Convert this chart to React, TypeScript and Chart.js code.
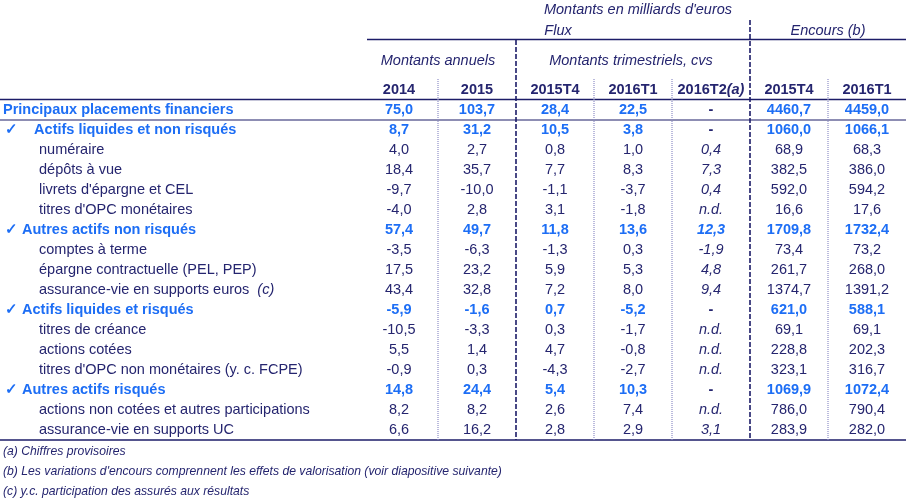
import { useEffect, useRef } from 'react';
import { Chart, registerables } from 'chart.js';

Chart.register(...registerables);

// ---------- data ----------
const columnKeys = ['f2014', 'f2015', 'f2015T4', 'f2016T1', 'f2016T2', 'e2015T4', 'e2016T1'];
const columnHeaders = ['2014', '2015', '2015T4', '2016T1', '2016T2', '2015T4', '2016T1'];
const columnHeaderNotes = ['', '', '', '', '(a)', '', ''];

const rowLabels = [
  'Principaux placements financiers',
  '✓    Actifs liquides et non risqués',
  'numéraire',
  'dépôts à vue',
  "livrets d'épargne et CEL",
  "titres d'OPC monétaires",
  '✓ Autres actifs non risqués',
  'comptes à terme',
  'épargne contractuelle (PEL, PEP)',
  'assurance-vie en supports euros',
  '✓ Actifs liquides et risqués',
  'titres de créance',
  'actions cotées',
  "titres d'OPC non monétaires (y. c. FCPE)",
  '✓ Autres actifs risqués',
  'actions non cotées et autres participations',
  'assurance-vie en supports UC',
];
const rowNotes = ['', '', '', '', '', '', '', '', '', '(c)', '', '', '', '', '', '', ''];
const rowKinds = ['total', 'group', 'item', 'item', 'item', 'item', 'group', 'item', 'item', 'item', 'group', 'item', 'item', 'item', 'group', 'item', 'item'];

const flux2014 = [75.0, 8.7, 4.0, 18.4, -9.7, -4.0, 57.4, -3.5, 17.5, 43.4, -5.9, -10.5, 5.5, -0.9, 14.8, 8.2, 6.6];
const flux2015 = [103.7, 31.2, 2.7, 35.7, -10.0, 2.8, 49.7, -6.3, 23.2, 32.8, -1.6, -3.3, 1.4, 0.3, 24.4, 8.2, 16.2];
const flux2015T4 = [28.4, 10.5, 0.8, 7.7, -1.1, 3.1, 11.8, -1.3, 5.9, 7.2, 0.7, 0.3, 4.7, -4.3, 5.4, 2.6, 2.8];
const flux2016T1 = [22.5, 3.8, 1.0, 8.3, -3.7, -1.8, 13.6, 0.3, 5.3, 8.0, -5.2, -1.7, -0.8, -2.7, 10.3, 7.4, 2.9];
const flux2016T2: (number | string)[] = ['-', '-', 0.4, 7.3, 0.4, 'n.d.', 12.3, -1.9, 4.8, 9.4, '-', 'n.d.', 'n.d.', 'n.d.', '-', 'n.d.', 3.1];
const encours2015T4 = [4460.7, 1060.0, 68.9, 382.5, 592.0, 16.6, 1709.8, 73.4, 261.7, 1374.7, 621.0, 69.1, 228.8, 323.1, 1069.9, 786.0, 283.9];
const encours2016T1 = [4459.0, 1066.1, 68.3, 386.0, 594.2, 17.6, 1732.4, 73.2, 268.0, 1391.2, 588.1, 69.1, 202.3, 316.7, 1072.4, 790.4, 282.0];

const columnValues: (number | string)[][] = [flux2014, flux2015, flux2015T4, flux2016T1, flux2016T2, encours2015T4, encours2016T1];

const titleText = "Montants en milliards d'euros";
const fluxText = 'Flux';
const encoursText = 'Encours (b)';
const annualText = 'Montants annuels';
const quarterlyText = 'Montants trimestriels, cvs';
const footnotes = [
  '(a) Chiffres provisoires',
  "(b) Les variations d'encours comprennent les effets de valorisation (voir diapositive suivante)",
  '(c) y.c. participation des assurés aux résultats',
];

// ---------- styles ----------
const FONT = '"Liberation Sans", Arial, Helvetica, sans-serif';
const SIZE = 14.5;
const NAVY = '#25256f';
const BLUE = '#1d6ef5';
const LINE = '#1c1c68';
const DOTTED = '#8e8ec6';

const fmt = (v: number | string) => (typeof v === 'number' ? v.toFixed(1).replace('.', ',') : v);

const tablePlugin = {
  id: 'tableText',
  afterDraw(chart: any) {
    const { ctx, chartArea, scales } = chart;
    const xs = scales.x;
    const ys = scales.y;
    const W = chart.width;
    const top = chartArea.top;
    const bottom = chartArea.bottom;
    const cx = (i: number) => xs.getPixelForValue(i);
    const cy = (i: number) => ys.getPixelForValue(i);
    const bx = (i: number) => (cx(i) + cx(i + 1)) / 2;

    ctx.save();
    ctx.textBaseline = 'middle';

    // header texts
    ctx.fillStyle = NAVY;
    ctx.textAlign = 'center';
    ctx.font = `italic ${SIZE}px ${FONT}`;
    ctx.fillText(titleText, (cx(0) + cx(6)) / 2 + 5, top - 90);
    ctx.fillText(fluxText, (cx(0) + cx(4)) / 2 + 3, top - 69);
    ctx.fillText(encoursText, (cx(5) + cx(6)) / 2, top - 69);
    ctx.fillText(annualText, (cx(0) + cx(1)) / 2, top - 39);
    ctx.fillText(quarterlyText, cx(3) - 2, top - 39);

    // column headers
    columnHeaders.forEach((h, i) => {
      ctx.font = `bold ${SIZE}px ${FONT}`;
      const w1 = ctx.measureText(h).width;
      ctx.font = `bold italic ${SIZE}px ${FONT}`;
      const note = columnHeaderNotes[i];
      const w2 = note ? ctx.measureText(note).width : 0;
      const start = cx(i) - (w1 + w2) / 2;
      ctx.textAlign = 'left';
      ctx.font = `bold ${SIZE}px ${FONT}`;
      ctx.fillText(h, start, top - 10);
      if (note) {
        ctx.font = `bold italic ${SIZE}px ${FONT}`;
        ctx.fillText(note, start + w1, top - 10);
      }
    });

    // row labels
    rowLabels.forEach((lbl, r) => {
      const kind = rowKinds[r];
      const y = cy(r);
      ctx.textAlign = 'left';
      let x = 39;
      if (kind === 'total') { x = 3; ctx.font = `bold ${SIZE}px ${FONT}`; ctx.fillStyle = BLUE; }
      else if (kind === 'group') { x = 5; ctx.font = `bold ${SIZE}px ${FONT}`; ctx.fillStyle = BLUE; }
      else { ctx.font = `${SIZE}px ${FONT}`; ctx.fillStyle = NAVY; }
      ctx.fillText(lbl, x, y);
      if (rowNotes[r]) {
        const w = ctx.measureText(lbl).width;
        ctx.font = `italic ${SIZE}px ${FONT}`;
        ctx.fillText(rowNotes[r], x + w + 8, y);
      }
    });

    // cell values, placed on the dataset points
    ctx.textAlign = 'center';
    chart.data.datasets.forEach((ds: any, c: number) => {
      const meta = chart.getDatasetMeta(c);
      meta.data.forEach((pt: any, r: number) => {
        const v = columnValues[c][r];
        const strong = rowKinds[r] !== 'item';
        const italic = c === 4 && v !== '-';
        ctx.font = `${italic ? 'italic ' : ''}${strong ? 'bold ' : ''}${SIZE}px ${FONT}`;
        ctx.fillStyle = strong && v !== '-' ? BLUE : NAVY;
        ctx.fillText(fmt(v), pt.x, pt.y);
      });
    });

    // horizontal rules
    ctx.strokeStyle = LINE;
    const hline = (y: number, x0: number, x1: number, w: number) => {
      ctx.lineWidth = w;
      ctx.setLineDash([]);
      ctx.beginPath();
      ctx.moveTo(x0, y);
      ctx.lineTo(x1, y);
      ctx.stroke();
    };
    hline(top - 60.5, chartArea.left + 7, W, 1.3);
    hline(top - 0.5, 0, W, 1.6);
    hline((cy(0) + cy(1)) / 2, 0, W, 1.1);
    hline(bottom, 0, W, 1.6);

    // dashed group separators
    ctx.lineWidth = 1.6;
    ctx.setLineDash([5, 2]);
    [[1, top - 60], [4, top - 80]].forEach(([i, y0]) => {
      ctx.beginPath();
      ctx.moveTo(bx(i), y0);
      ctx.lineTo(bx(i), bottom);
      ctx.stroke();
    });

    // dotted column separators
    ctx.strokeStyle = DOTTED;
    ctx.lineWidth = 1.2;
    ctx.setLineDash([1, 1]);
    [0, 2, 3, 5].forEach((i) => {
      ctx.beginPath();
      ctx.moveTo(bx(i), top - 21);
      ctx.lineTo(bx(i), bottom);
      ctx.stroke();
    });
    ctx.setLineDash([]);

    // footnotes
    ctx.fillStyle = NAVY;
    ctx.textAlign = 'left';
    ctx.font = `italic 12.2px ${FONT}`;
    footnotes.forEach((f, k) => ctx.fillText(f, 3, bottom + 12 + k * 20));

    ctx.restore();
  },
};

export default function App() {
  const ref = useRef<HTMLCanvasElement>(null);
  useEffect(() => {
    if (!ref.current) return;
    const chart = new Chart(ref.current, {
      type: 'line',
      data: {
        datasets: columnKeys.map((key) => ({
          label: key,
          data: rowLabels.map((lbl) => ({ x: key, y: lbl })),
          showLine: false,
          pointRadius: 0,
          pointHoverRadius: 0,
        })),
      },
      options: {
        animation: false,
        responsive: false,
        devicePixelRatio: 1,
        events: [],
        layout: { padding: { left: 360, right: 0, top: 100, bottom: 61 } },
        scales: {
          x: { type: 'category', labels: columnKeys, offset: true, display: false },
          y: { type: 'category', labels: rowLabels, offset: true, display: false },
        },
        plugins: { legend: { display: false }, tooltip: { enabled: false } },
      },
      plugins: [tablePlugin],
    } as any);
    return () => chart.destroy();
  }, []);
  return (
    <div style={{ position: 'absolute', left: 0, top: 0, width: 906, height: 501, background: '#fff' }}>
      <canvas ref={ref} width={906} height={501} style={{ display: 'block' }} />
    </div>
  );
}
